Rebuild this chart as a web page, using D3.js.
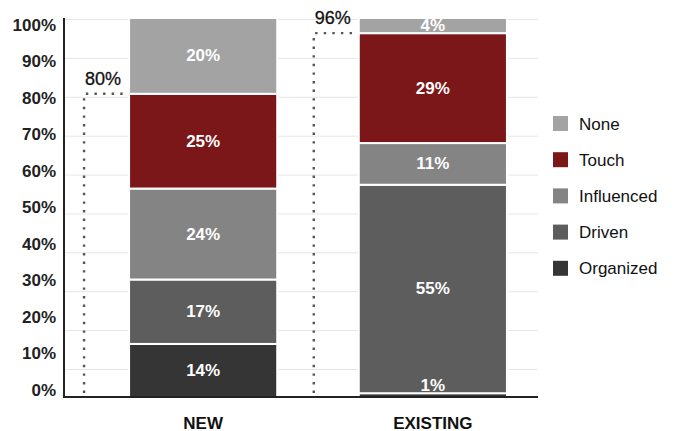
<!DOCTYPE html>
<html>
<head>
<meta charset="utf-8">
<script src="https://cdn.jsdelivr.net/npm/d3@7"></script>
<style>
  body { margin: 0; background: #fff; }
  svg { display: block; font-family: "Liberation Sans", Arial, Helvetica, sans-serif; }
</style>
</head>
<body>
<svg id="chart"></svg>
<script>
// data
const categories = ['NEW', 'EXISTING'];
const series = ['Organized', 'Driven', 'Influenced', 'Touch', 'None']; // bottom -> top
const newValues = [14, 17, 24, 25, 20];
const existingValues = [1, 55, 11, 29, 4];
const reachValues = [80, 96]; // dotted annotations per category
const legendOrder = ['None', 'Touch', 'Influenced', 'Driven', 'Organized'];
const yTicks = [0, 10, 20, 30, 40, 50, 60, 70, 80, 90, 100];
const gridTicks = [10, 20, 30, 40, 50, 60, 70, 80, 90, 100];

const width = 673, height = 431;
const axisX = 64, axisRight = 538, baseY = 397;

const svg = d3.select('#chart')
    .attr('width', width)
    .attr('height', height);

const color = d3.scaleOrdinal()
    .domain(series)
    .range(['#353535', '#5d5d5d', '#848484', '#7b1719', '#a3a3a3']);

// bars
const y = d3.scaleLinear().domain([0, 100]).range([baseY, 18]);
// gridlines and tick labels sit a bit off the bar scale in the original
const yGrid = d3.scaleLinear().domain([10, 100]).range([369, 19]);
const yLabel = d3.scaleLinear().domain([0, 100]).range([390, 25]);

const x = d3.scaleBand()
    .domain(categories)
    .range([94.6, 541.4])
    .paddingInner(0.355)
    .paddingOuter(0.15);

// gridlines
const gridG = svg.append('g')
    .attr('transform', `translate(${axisX},0)`)
    .call(d3.axisLeft(yGrid).tickValues(gridTicks).tickSize(-(axisRight - axisX)).tickFormat(''));
gridG.select('.domain').remove();
gridG.selectAll('.tick line').attr('stroke', '#e6e6e6').attr('stroke-width', 1);

// tick labels
const labelG = svg.append('g')
    .attr('transform', `translate(${axisX},0)`)
    .call(d3.axisLeft(yLabel).tickValues(yTicks).tickSize(0).tickPadding(8).tickFormat(d => d + '%'));
labelG.select('.domain').remove();
labelG.selectAll('text')
    .attr('fill', '#222')
    .style('font-size', '17px')
    .style('font-weight', 'bold')
    .style('font-family', '"Liberation Sans", Arial, sans-serif');

// stacked data
const rows = categories.map((c, i) => {
  const vals = i === 0 ? newValues : existingValues;
  const r = { cat: c };
  series.forEach((s, j) => r[s] = vals[j]);
  return r;
});
const stacked = d3.stack().keys(series)(rows);

const layers = svg.append('g').selectAll('g')
    .data(stacked)
    .join('g')
    .attr('fill', d => color(d.key));

layers.selectAll('rect')
    .data(d => d)
    .join('rect')
    .attr('x', d => x(d.data.cat))
    .attr('y', d => y(d[1]))
    .attr('width', x.bandwidth())
    .attr('height', d => y(d[0]) - y(d[1]))
    .attr('stroke', '#fff')
    .attr('stroke-width', 2);

// segment labels
const segLabels = [];
stacked.forEach(layer => layer.forEach(d => segLabels.push({ d: d, key: layer.key })));
svg.append('g').selectAll('text')
    .data(segLabels)
    .join('text')
    .attr('x', d => x(d.d.data.cat) + x.bandwidth() / 2)
    .attr('y', d => {
      const h = y(d.d[0]) - y(d.d[1]);
      if (h < 10) return y(d.d[1]) - 8; // thin slice: label sits just above it
      return (y(d.d[0]) + y(d.d[1])) / 2;
    })
    .attr('text-anchor', 'middle')
    .attr('dominant-baseline', 'central')
    .attr('fill', '#fff')
    .style('font-size', '17px')
    .style('font-weight', 'bold')
    .text(d => (d.d[1] - d.d[0]) + '%');

// dotted reach annotations
const reach = categories.map((c, i) => ({ cat: c, v: reachValues[i] }));
const annot = svg.append('g');
reach.forEach(r => {
  const bx = x(r.cat);
  const lx = bx - 45;
  annot.append('path')
      .attr('d', `M${lx},${baseY - 4}V${y(r.v)}H${bx - 2}`)
      .attr('fill', 'none')
      .attr('stroke', '#555')
      .attr('stroke-width', 2.4)
      .attr('stroke-dasharray', '2.4,6.2');
  annot.append('text')
      .attr('x', lx + 1)
      .attr('y', y(r.v) - 9)
      .attr('fill', '#111')
      .attr('stroke', '#111')
      .attr('stroke-width', 0.3)
      .style('font-size', '18px')
      .text(r.v + '%');
});

// axes lines
svg.append('line')
    .attr('x1', axisX).attr('x2', axisX)
    .attr('y1', 18).attr('y2', baseY + 1)
    .attr('stroke', '#222').attr('stroke-width', 2);
svg.append('line')
    .attr('x1', axisX - 1).attr('x2', axisRight)
    .attr('y1', baseY).attr('y2', baseY)
    .attr('stroke', '#222').attr('stroke-width', 2);

// category labels
svg.append('g').selectAll('text')
    .data(categories)
    .join('text')
    .attr('x', d => x(d) + x.bandwidth() / 2)
    .attr('y', 423)
    .attr('text-anchor', 'middle')
    .attr('dominant-baseline', 'central')
    .attr('fill', '#111')
    .style('font-size', '17px')
    .style('font-weight', 'bold')
    .text(d => d);

// legend
const legend = svg.append('g')
    .attr('transform', 'translate(553,116)');
const item = legend.selectAll('g')
    .data(legendOrder)
    .join('g')
    .attr('transform', (d, i) => `translate(0,${i * 36.2})`);
item.append('rect')
    .attr('width', 15)
    .attr('height', 15)
    .attr('fill', d => color(d));
item.append('text')
    .attr('x', 26)
    .attr('y', 8)
    .attr('dominant-baseline', 'central')
    .attr('fill', '#111')
    .style('font-size', '17px')
    .text(d => d);
</script>
</body>
</html>
